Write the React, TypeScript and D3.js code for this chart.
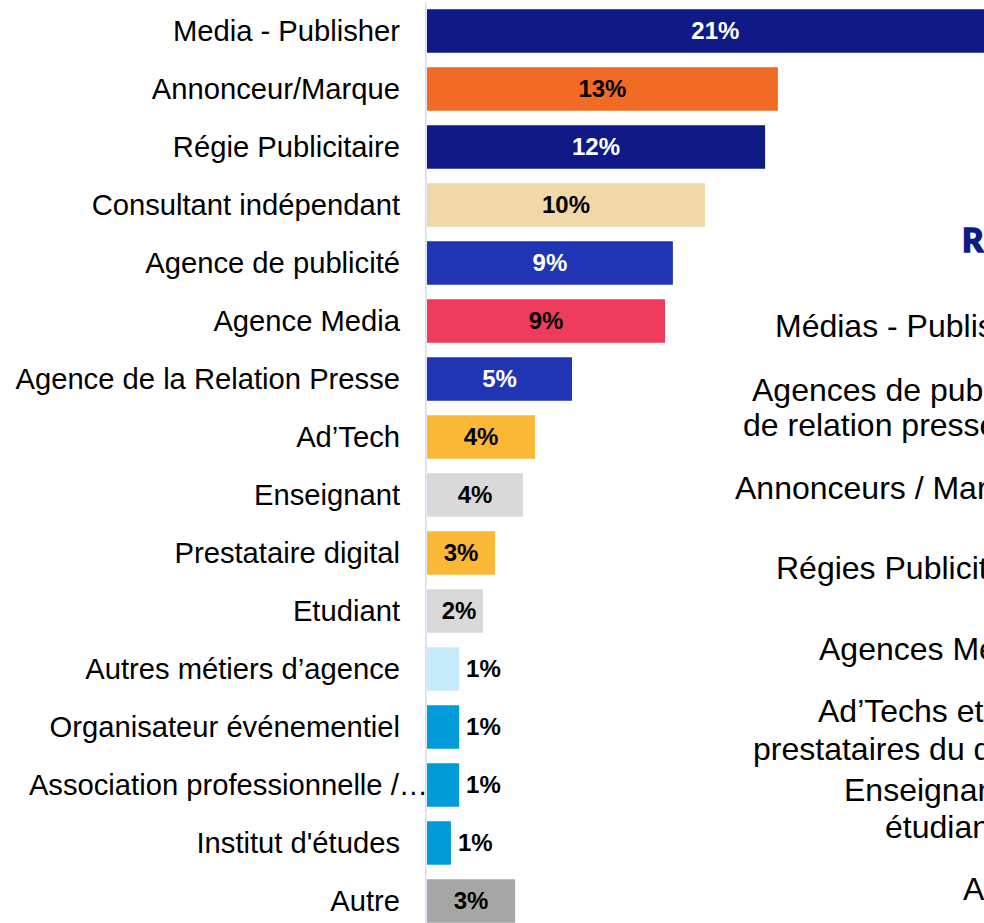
import React from "react";
import * as d3 from "d3";

const categories = [
  "Media - Publisher",
  "Annonceur/Marque",
  "Régie Publicitaire",
  "Consultant indépendant",
  "Agence de publicité",
  "Agence Media",
  "Agence de la Relation Presse",
  "Ad’Tech",
  "Enseignant",
  "Prestataire digital",
  "Etudiant",
  "Autres métiers d’agence",
  "Organisateur événementiel",
  "Association professionnelle /…",
  "Institut d'études",
  "Autre",
];

const values = [21.2, 12.9, 12.43, 10.22, 9.04, 8.75, 5.33, 3.97, 3.53, 2.5, 2.06, 1.18, 1.18, 1.18, 0.88, 3.24];

const valueLabels = ["21%", "13%", "12%", "10%", "9%", "9%", "5%", "4%", "4%", "3%", "2%", "1%", "1%", "1%", "1%", "3%"];

const barColors = [
  "#101a87", "#f26b25", "#101a87", "#f0d8a8", "#2035b3", "#f03c5c", "#2035b3", "#fbb836",
  "#d9d9d9", "#fbb836", "#d9d9d9", "#c6ecfb", "#009bd8", "#009bd8", "#009bd8", "#a6a6a6",
];

const labelColors = [
  "#ffffff", "#000000", "#ffffff", "#000000", "#ffffff", "#000000", "#ffffff", "#000000",
  "#000000", "#000000", "#000000", "#000000", "#000000", "#000000", "#000000", "#000000",
];

const sideTitle = "RÉPARTITION";
const sideLines = [
  "Médias - Publishers",
  "Agences de publicité et",
  "de relation presse",
  "Annonceurs / Marques",
  "Régies Publicitaires",
  "Agences Media",
  "Ad’Techs et",
  "prestataires du digital",
  "Enseignants et",
  "étudiants",
  "Autres",
];

const W = 984;
const H = 923;
const FONT = "'Liberation Sans', Arial, sans-serif";

// layout of the side annotation lines (start x, baseline y)
const sideLayout: [number, number][] = [
  [775, 337],
  [752, 401],
  [743, 436],
  [735, 499],
  [776, 579],
  [819, 660],
  [818, 722],
  [753, 760],
  [844, 801],
  [885, 838],
  [963, 900],
];

export default function App() {
  const x0 = 427;
  const x = d3.scaleLinear().domain([0, 25]).range([x0, x0 + 25 * 27.2]);
  const y = d3
    .scaleBand<string>()
    .domain(categories)
    .range([2, 930])
    .paddingInner(0.25)
    .paddingOuter(0.125);
  const bw = y.bandwidth();
  const pctSize = 24;

  return (
    <>
      <style>{`body{margin:0;overflow:hidden}`}</style>
      <svg width={W} height={H} style={{ display: "block" }} fontFamily={FONT}>
        <rect width={W} height={H} fill="#ffffff" />
        {categories.map((c, i) => {
          const yy = y(c)!;
          const cy = yy + bw / 2;
          const w = x(values[i]) - x0;
          const txt = valueLabels[i];
          const tw = (txt.length - 1) * 0.556 * pctSize + 0.889 * pctSize;
          const inside = w >= tw + 10;
          const truncated = c.endsWith("…");
          return (
            <g key={c}>
              <rect x={x0} y={yy} width={w} height={bw} fill={barColors[i]} />
              <text
                x={truncated ? 428 : 400}
                y={cy}
                dy="0.35em"
                textAnchor="end"
                fontSize={29.2}
                fill="#000"
              >
                {c}
              </text>
              <text
                x={inside ? x0 + w / 2 + (w < 60 ? 4 : 0) : x0 + w + 7}
                y={cy}
                dy="0.35em"
                textAnchor={inside ? "middle" : "start"}
                fontSize={pctSize}
                fontWeight="bold"
                fill={inside ? labelColors[i] : "#000"}
              >
                {txt}
              </text>
            </g>
          );
        })}
        <line x1={425.8} x2={425.8} y1={2} y2={H} stroke="#d6daf5" strokeWidth={1.6} />
        <text
          x={962}
          y={252}
          fontFamily="Lato, 'Noto Sans', sans-serif"
          fontWeight={900}
          fontSize={33}
          letterSpacing={5}
          fill="#101a87"
          stroke="#101a87"
          strokeWidth={1.4}
        >
          {sideTitle}
        </text>
        {sideLines.map((s, i) => (
          <text key={s} x={sideLayout[i][0]} y={sideLayout[i][1]} fontSize={32} fill="#000">
            {s}
          </text>
        ))}
      </svg>
    </>
  );
}
